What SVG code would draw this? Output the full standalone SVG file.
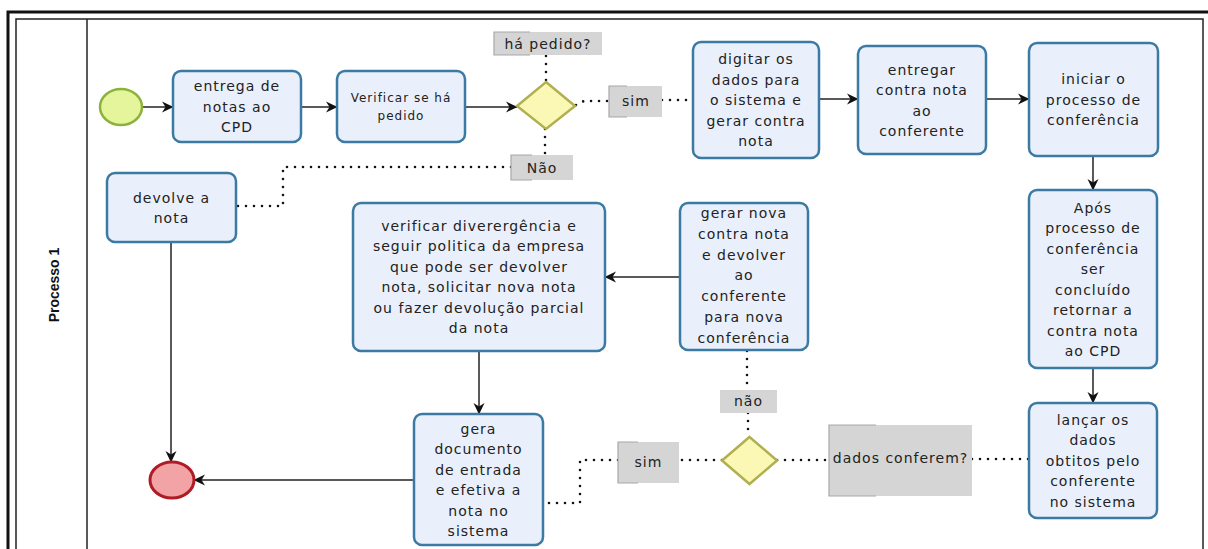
<svg xmlns="http://www.w3.org/2000/svg" width="1208" height="549" viewBox="0 0 1208 549">
<defs>
<marker id="arr" markerUnits="userSpaceOnUse" markerWidth="12" markerHeight="12" refX="11" refY="6" orient="auto">
<path d="M0,0.5 L11.5,6 L0,11.5 L3.5,6 z" fill="#111"/>
</marker>
<style>
.task{fill:#eaf0fb;stroke:#3b7aa3;stroke-width:2.5}
.t{font-family:"DejaVu Sans",Verdana,sans-serif;font-size:14px;letter-spacing:1px;fill:#222;text-anchor:middle}
.ts{font-family:"DejaVu Sans",Verdana,sans-serif;font-size:12px;letter-spacing:1px;fill:#222;text-anchor:middle}
.lbl{fill:#d5d5d5}
.lbe{fill:none;stroke:#a8a8a8;stroke-width:1.2}
.lt{font-family:"DejaVu Sans",Verdana,sans-serif;font-size:14px;letter-spacing:1px;fill:#222;text-anchor:middle}
.gw{fill:#fbf8b6;stroke:#b0b050;stroke-width:2.5}
.flow{fill:none;stroke:#222;stroke-width:1.5;marker-end:url(#arr)}
.dot{fill:none;stroke:#111;stroke-width:2.6;stroke-linecap:round;stroke-dasharray:0 8}
</style>
</defs>
<rect x="0" y="0" width="1208" height="549" fill="#fff"/>
<g id="pool">
<rect x="8" y="12" width="1215" height="560" fill="none" stroke="#111" stroke-width="3"/>
<rect x="16" y="19" width="1187" height="550" fill="none" stroke="#222" stroke-width="1.5"/>
<line x1="87" y1="19" x2="87" y2="549" stroke="#222" stroke-width="1.5"/>
<text transform="translate(59,285) rotate(-90)" font-family="'Liberation Sans',Arial,sans-serif" font-weight="bold" font-size="14" text-anchor="middle" fill="#111">Processo 1</text>
</g>
<g id="connectors">
<path class="flow" d="M142,107 H173"/>
<path class="flow" d="M301,107 H337"/>
<path class="flow" d="M465,107 H517"/>
<path class="flow" d="M819,99 H858"/>
<path class="flow" d="M986,99 H1029"/>
<path class="flow" d="M1093,156 V190"/>
<path class="flow" d="M1093,368 V403"/>
<path class="flow" d="M680,277 H605"/>
<path class="flow" d="M479,351 V414"/>
<path class="flow" d="M171,242 V462"/>
<path class="flow" d="M414,480 H194"/>
<path class="dot" d="M546,56 V82"/>
<path class="dot" d="M576,105 L584,101 H609"/>
<path class="dot" d="M662,100 H693"/>
<path class="dot" d="M545,129 V155"/>
<path class="dot" d="M511,167 H283 V206 H236"/>
<path class="dot" d="M747,351 V390"/>
<path class="dot" d="M748,413 V437"/>
<path class="dot" d="M722,460 H679"/>
<path class="dot" d="M618,460 H580 V503 H543"/>
<path class="dot" d="M777,460 H829"/>
<path class="dot" d="M972,459 H1029"/>
</g>
<g id="start"><ellipse cx="121" cy="107" rx="21" ry="18" fill="#e4f59c" stroke="#8cb23c" stroke-width="2.5"/></g>
<g id="end"><ellipse cx="172" cy="480" rx="22" ry="18" fill="#f2a3a6" stroke="#b01c26" stroke-width="3"/></g>
<g id="task1"><rect class="task" x="173" y="71" width="128" height="71" rx="8"/>
<text class="t"><tspan x="237" y="91">entrega de</tspan><tspan x="237" y="111.5">notas ao</tspan><tspan x="237" y="132">CPD</tspan></text></g>
<g id="task2"><rect class="task" x="337" y="71" width="128" height="71" rx="8"/>
<text class="ts"><tspan x="401" y="102">Verificar se há</tspan><tspan x="401" y="120">pedido</tspan></text></g>
<g id="gw1"><path class="gw" d="M546,82 L575,106 L546,129 L517,106 z"/></g>
<g id="lbl-hapedido"><rect class="lbl" x="494" y="32" width="108" height="23"/><path class="lbe" d="M530,32 H494 V55 H530"/><text class="lt" x="548" y="49">há pedido?</text></g>
<g id="lbl-sim1"><rect class="lbl" x="609" y="86" width="53" height="31"/><path class="lbe" d="M627,86 H609 V117 H627"/><text class="lt" x="636" y="106">sim</text></g>
<g id="lbl-nao1"><rect class="lbl" x="511" y="155" width="62" height="25"/><path class="lbe" d="M532,155 H511 V180 H532"/><text class="lt" x="542" y="173" font-size="15">Não</text></g>
<g id="task3"><rect class="task" x="693" y="42" width="126" height="116" rx="8"/>
<text class="t"><tspan x="756" y="64">digitar os</tspan><tspan x="756" y="84.5">dados para</tspan><tspan x="756" y="105">o sistema e</tspan><tspan x="756" y="125.5">gerar contra</tspan><tspan x="756" y="146">nota</tspan></text></g>
<g id="task4"><rect class="task" x="858" y="46" width="128" height="108" rx="8"/>
<text class="t"><tspan x="922" y="74.5">entregar</tspan><tspan x="922" y="95">contra nota</tspan><tspan x="922" y="115.5">ao</tspan><tspan x="922" y="136">conferente</tspan></text></g>
<g id="task5"><rect class="task" x="1029" y="43" width="129" height="113" rx="8"/>
<text class="t"><tspan x="1093.5" y="84">iniciar o</tspan><tspan x="1093.5" y="104.5">processo de</tspan><tspan x="1093.5" y="125">conferência</tspan></text></g>
<g id="task6"><rect class="task" x="1029" y="190" width="128" height="178" rx="8"/>
<text class="t"><tspan x="1093" y="212.5">Após</tspan><tspan x="1093" y="233">processo de</tspan><tspan x="1093" y="253.5">conferência</tspan><tspan x="1093" y="274">ser</tspan><tspan x="1093" y="294.5">concluído</tspan><tspan x="1093" y="315">retornar a</tspan><tspan x="1093" y="335.5">contra nota</tspan><tspan x="1093" y="356">ao CPD</tspan></text></g>
<g id="task7"><rect class="task" x="1029" y="403" width="128" height="115" rx="8"/>
<text class="t"><tspan x="1093" y="424.5">lançar os</tspan><tspan x="1093" y="445">dados</tspan><tspan x="1093" y="465.5">obtitos pelo</tspan><tspan x="1093" y="486">conferente</tspan><tspan x="1093" y="506.5">no sistema</tspan></text></g>
<g id="lbl-dados"><rect class="lbl" x="829" y="425" width="143" height="71"/><path class="lbe" d="M876,425 H829 V496 H876"/><text class="lt" x="900.5" y="463" font-size="12.5">dados conferem?</text></g>
<g id="gw2"><path class="gw" d="M749.5,437 L777,460.5 L749.5,484 L722,460.5 z"/></g>
<g id="lbl-nao2"><rect class="lbl" x="720" y="390" width="57" height="23"/><text class="lt" x="748.5" y="406" font-size="15">não</text></g>
<g id="lbl-sim2"><rect class="lbl" x="618" y="442" width="61" height="41"/><path class="lbe" d="M638,442 H618 V483 H638"/><text class="lt" x="648.5" y="467" font-size="15">sim</text></g>
<g id="task-gerar"><rect class="task" x="680" y="203" width="128" height="147" rx="8"/>
<text class="t"><tspan x="744" y="218">gerar nova</tspan><tspan x="744" y="238.8">contra nota</tspan><tspan x="744" y="259.6">e devolver</tspan><tspan x="744" y="280.4">ao</tspan><tspan x="744" y="301.2">conferente</tspan><tspan x="744" y="322">para nova</tspan><tspan x="744" y="342.8">conferência</tspan></text></g>
<g id="task-verificar"><rect class="task" x="353" y="203" width="252" height="148" rx="8"/>
<text class="t"><tspan x="479" y="230.5">verificar diverergência e</tspan><tspan x="479" y="251">seguir politica da empresa</tspan><tspan x="479" y="271.5">que pode ser devolver</tspan><tspan x="479" y="292">nota, solicitar nova nota</tspan><tspan x="479" y="312.5">ou fazer devolução parcial</tspan><tspan x="479" y="333">da nota</tspan></text></g>
<g id="task-gera"><rect class="task" x="414" y="414" width="129" height="131" rx="8"/>
<text class="t"><tspan x="478.5" y="433.5">gera</tspan><tspan x="478.5" y="454">documento</tspan><tspan x="478.5" y="474.5">de entrada</tspan><tspan x="478.5" y="495">e efetiva a</tspan><tspan x="478.5" y="515.5">nota no</tspan><tspan x="478.5" y="536">sistema</tspan></text></g>
<g id="task-devolve"><rect class="task" x="107" y="173" width="129" height="69" rx="8"/>
<text class="t"><tspan x="171.5" y="202.5">devolve a</tspan><tspan x="171.5" y="223">nota</tspan></text></g>
</svg>
